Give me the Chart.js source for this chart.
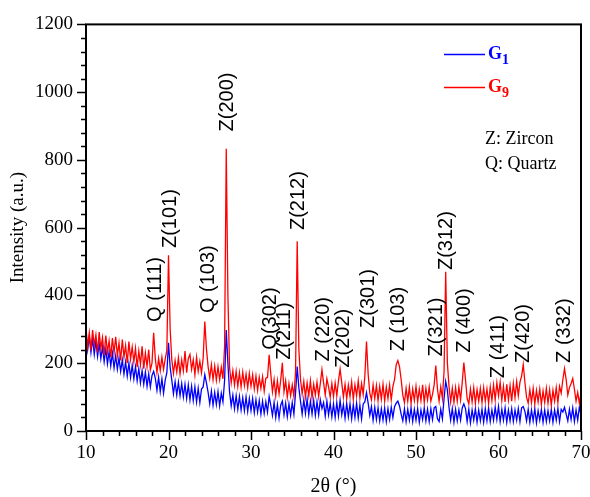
<!DOCTYPE html>
<html>
<head>
<meta charset="utf-8">
<script src="https://cdn.jsdelivr.net/npm/chart.js@4.4.0/dist/chart.umd.min.js"></script>
<style>
  html, body { margin: 0; padding: 0; background: #fff; }
  canvas { display: block; }
</style>
</head>
<body>
<canvas id="xrd" width="590" height="497"></canvas>
<script>
// 2θ scan positions (deg)
const twoTheta = [
  10.0,10.2,10.4,10.6,10.8,11.0,11.2,11.4,11.6,11.8,
  12.0,12.2,12.4,12.6,12.8,13.0,13.2,13.4,13.6,13.8,
  14.0,14.2,14.4,14.6,14.8,15.0,15.2,15.4,15.6,15.8,
  16.0,16.2,16.4,16.6,16.8,17.0,17.2,17.4,17.6,17.8,
  18.0,18.2,18.4,18.6,18.8,19.0,19.2,19.4,19.6,19.8,
  20.0,20.2,20.4,20.6,20.8,21.0,21.2,21.4,21.6,21.8,
  22.0,22.2,22.4,22.6,22.8,23.0,23.2,23.4,23.6,23.8,
  24.0,24.2,24.4,24.6,24.8,25.0,25.2,25.4,25.6,25.8,
  26.0,26.2,26.4,26.6,26.8,27.0,27.2,27.4,27.6,27.8,
  28.0,28.2,28.4,28.6,28.8,29.0,29.2,29.4,29.6,29.8,
  30.0,30.2,30.4,30.6,30.8,31.0,31.2,31.4,31.6,31.8,
  32.0,32.2,32.4,32.6,32.8,33.0,33.2,33.4,33.6,33.8,
  34.0,34.2,34.4,34.6,34.8,35.0,35.2,35.4,35.6,35.8,
  36.0,36.2,36.4,36.6,36.8,37.0,37.2,37.4,37.6,37.8,
  38.0,38.2,38.4,38.6,38.8,39.0,39.2,39.4,39.6,39.8,
  40.0,40.2,40.4,40.6,40.8,41.0,41.2,41.4,41.6,41.8,
  42.0,42.2,42.4,42.6,42.8,43.0,43.2,43.4,43.6,43.8,
  44.0,44.2,44.4,44.6,44.8,45.0,45.2,45.4,45.6,45.8,
  46.0,46.2,46.4,46.6,46.8,47.0,47.2,47.4,47.6,47.8,
  48.0,48.2,48.4,48.6,48.8,49.0,49.2,49.4,49.6,49.8,
  50.0,50.2,50.4,50.6,50.8,51.0,51.2,51.4,51.6,51.8,
  52.0,52.2,52.4,52.6,52.8,53.0,53.2,53.4,53.6,53.8,
  54.0,54.2,54.4,54.6,54.8,55.0,55.2,55.4,55.6,55.8,
  56.0,56.2,56.4,56.6,56.8,57.0,57.2,57.4,57.6,57.8,
  58.0,58.2,58.4,58.6,58.8,59.0,59.2,59.4,59.6,59.8,
  60.0,60.2,60.4,60.6,60.8,61.0,61.2,61.4,61.6,61.8,
  62.0,62.2,62.4,62.6,62.8,63.0,63.2,63.4,63.6,63.8,
  64.0,64.2,64.4,64.6,64.8,65.0,65.2,65.4,65.6,65.8,
  66.0,66.2,66.4,66.6,66.8,67.0,67.2,67.4,67.6,67.8,
  68.0,68.2,68.4,68.6,68.8,69.0,69.2,69.4,69.6,69.8,
  70.0
];

// intensity of G1 (blue)
const g1 = [
  290,240,280,232,272,226,266,220,258,214,
  248,204,242,198,234,192,230,186,222,182,
  216,176,210,168,204,162,200,158,194,154,
  190,148,184,142,178,138,174,132,168,130,
  164,176,156,120,158,116,154,112,150,172,
  260,188,150,110,146,106,144,104,140,100,
  138,96,136,92,132,90,130,86,126,84,
  124,130,166,142,114,80,118,76,114,78,
  116,74,112,86,150,298,200,116,74,106,
  66,104,64,102,62,98,60,100,58,96,
  60,96,54,92,56,90,50,88,52,86,
  56,102,76,46,84,40,78,38,76,88,
  48,82,42,80,46,84,50,112,190,128,
  88,50,92,52,94,48,88,50,90,46,
  86,48,92,66,84,44,88,48,82,42,
  80,40,84,44,90,48,78,38,82,42,
  80,36,78,40,82,38,76,36,80,86,
  113,82,46,72,32,70,34,68,30,66,
  32,68,28,66,34,70,40,72,82,88,
  74,50,30,66,28,64,32,68,28,64,
  32,66,26,62,34,68,30,64,28,66,
  34,68,72,36,28,64,36,95,146,122,
  70,32,66,26,64,30,62,32,68,80,
  66,28,64,24,62,32,66,26,62,30,
  64,26,66,30,68,28,62,32,70,34,
  72,28,64,32,68,26,62,30,66,28,
  62,32,66,28,68,72,58,30,64,26,
  62,30,66,24,60,32,64,26,62,28,
  60,30,64,26,62,32,66,28,64,56,
  70,50,30,64,34,68,28,62,32,70,
  48
];

// intensity of G9 (red)
const g9 = [
  305,248,290,238,298,252,284,232,292,244,
  276,224,282,232,266,218,274,230,278,222,
  260,208,270,218,252,200,264,212,248,204,
  244,188,236,196,250,184,230,190,240,180,
  200,290,214,172,214,178,218,182,212,238,
  519,300,210,170,208,174,216,168,210,178,
  236,172,214,226,182,210,166,218,176,206,
  172,215,323,242,190,156,196,152,192,150,
  190,152,188,154,250,833,400,188,142,178,
  136,176,132,172,130,174,134,168,128,170,
  132,166,124,162,120,158,126,160,118,156,
  158,225,168,116,152,104,148,110,150,201,
  116,148,100,140,104,136,102,175,560,242,
  152,110,146,100,142,104,148,98,138,106,
  144,102,140,181,142,106,154,130,100,140,
  102,142,104,148,183,142,100,138,96,136,
  102,144,94,136,104,148,98,140,108,162,
  264,168,112,92,136,96,134,90,132,94,
  138,88,130,96,136,92,132,152,195,208,
  190,152,106,84,126,88,130,82,124,90,
  132,86,124,90,136,84,126,92,130,88,
  108,136,193,124,88,130,96,175,470,202,
  132,86,126,84,128,88,130,92,142,202,
  152,96,80,124,86,128,82,122,88,126,
  84,128,88,124,82,130,90,136,92,142,
  104,144,90,132,86,138,92,134,88,140,
  98,146,104,144,162,196,144,100,82,122,
  84,126,80,120,86,124,78,118,84,126,
  82,122,76,120,88,128,84,132,112,152,
  184,152,106,128,140,155,124,88,114,82,
  112
];

// tick labels
const xTicks = [10, 20, 30, 40, 50, 60, 70];
const yTicks = [0, 200, 400, 600, 800, 1000, 1200];

// peak assignments: text, 2θ, intensity where the label starts
const peakText = ['Q (111)', 'Z(101)', 'Q (103)', 'Z(200)', 'Q(302)', 'Z(211)', 'Z(212)', 'Z (220)', 'Z(202)',
  'Z(301)', 'Z (103)', 'Z(321)', 'Z(312)', 'Z (400)', 'Z (411)', 'Z(420)', 'Z (332)'];
const peakAt = [18.4, 20.3, 24.9, 27.2, 32.4, 34.1, 35.7, 38.8, 41.2,
  44.2, 47.9, 52.5, 53.7, 55.9, 60.0, 63.0, 68.05];
const peakLabelY = [322, 540, 348, 884, 240, 210, 593, 205, 187,
  304, 235, 220, 475, 231, 156, 201, 201];

const SERIF = "'Liberation Serif', 'Times New Roman', serif";
const SANS = "'Liberation Sans', Arial, sans-serif";
const BLUE = '#0000ff';
const RED = '#ff0000';

Chart.defaults.font.family = SERIF;
Chart.defaults.color = '#000';

// frame, tick marks, peak labels and legend
const decor = {
  id: 'decor',
  afterDraw(chart) {
    const { ctx, chartArea: a, scales: { x, y } } = chart;
    ctx.save();
    ctx.strokeStyle = '#000';
    ctx.lineWidth = 2;
    ctx.strokeRect(a.left, a.top, a.right - a.left, a.bottom - a.top);

    // tick marks (minor every 40 / every 2°)
    ctx.lineWidth = 1.5;
    ctx.beginPath();
    for (let v = 0; v <= 1200; v += 40) {
      const py = Math.round(y.getPixelForValue(v)) + 0.5;
      const len = v % 200 === 0 ? 9 : 5;
      ctx.moveTo(a.left, py);
      ctx.lineTo(a.left - len, py);
    }
    for (let v = 10; v <= 70; v += 2) {
      const px = Math.round(x.getPixelForValue(v)) + 0.5;
      const len = v % 10 === 0 ? 9 : 5;
      ctx.moveTo(px, a.bottom);
      ctx.lineTo(px, a.bottom + len);
    }
    ctx.stroke();

    // peak labels, rotated
    ctx.fillStyle = '#000';
    ctx.font = '20px ' + SANS;
    ctx.textAlign = 'left';
    ctx.textBaseline = 'middle';
    peakText.forEach((t, i) => {
      ctx.save();
      ctx.translate(x.getPixelForValue(peakAt[i]), y.getPixelForValue(peakLabelY[i]));
      ctx.rotate(-Math.PI / 2);
      ctx.fillText(t, 0, 0);
      ctx.restore();
    });

    // legend
    const lx = a.right - 137;
    [[BLUE, '1', a.top + 30], [RED, '9', a.top + 63]].forEach(([c, sub, ly]) => {
      ctx.strokeStyle = c;
      ctx.lineWidth = 1.5;
      ctx.beginPath();
      ctx.moveTo(lx, ly);
      ctx.lineTo(lx + 41, ly);
      ctx.stroke();
      ctx.fillStyle = c;
      ctx.textBaseline = 'middle';
      ctx.font = 'bold 18px ' + SERIF;
      ctx.fillText('G', lx + 44, ly);
      const gw = ctx.measureText('G').width;
      ctx.font = 'bold 14px ' + SERIF;
      ctx.fillText(sub, lx + 44 + gw, ly + 6);
    });

    ctx.fillStyle = '#000';
    ctx.font = '18px ' + SERIF;
    ctx.fillText('Z: Zircon', lx + 41, a.top + 115);
    ctx.fillText('Q: Quartz', lx + 41, a.top + 140);
    ctx.restore();
  }
};

const toPoints = vals => twoTheta.map((t, i) => ({ x: t, y: vals[i] }));

new Chart(document.getElementById('xrd').getContext('2d'), {
  type: 'line',
  data: {
    datasets: [
      { label: 'G9', data: toPoints(g9), borderColor: RED, borderWidth: 1.3, pointRadius: 0, tension: 0 },
      { label: 'G1', data: toPoints(g1), borderColor: BLUE, borderWidth: 1.3, pointRadius: 0, tension: 0 }
    ]
  },
  options: {
    responsive: false,
    animation: false,
    events: [],
    layout: { padding: { top: 24, right: 0, left: 0, bottom: 0 } },
    plugins: { legend: { display: false }, tooltip: { enabled: false } },
    scales: {
      x: {
        type: 'linear',
        min: 10,
        max: 70,
        afterFit: s => { s.height = 66; s.paddingRight = 9; s.paddingLeft = 0; },
        afterBuildTicks: s => { s.ticks = xTicks.map(v => ({ value: v })); },
        grid: { display: false, drawTicks: false },
        border: { display: false },
        ticks: { font: { size: 19 }, padding: 11, maxRotation: 0, callback: v => String(v) },
        title: { display: true, text: '2θ (°)', font: { size: 20, lineHeight: 1 }, padding: { top: 0, bottom: 0 } }
      },
      y: {
        min: 0,
        max: 1200,
        afterFit: s => { s.width = 86; },
        afterBuildTicks: s => { s.ticks = yTicks.map(v => ({ value: v })); },
        grid: { display: false, drawTicks: false },
        border: { display: false },
        ticks: { font: { size: 19 }, padding: 13, callback: v => String(v) },
        title: { display: true, text: 'Intensity (a.u.)', font: { size: 19, lineHeight: 1 }, padding: { top: 9, bottom: 0 } }
      }
    }
  },
  plugins: [decor]
});
</script>
</body>
</html>
